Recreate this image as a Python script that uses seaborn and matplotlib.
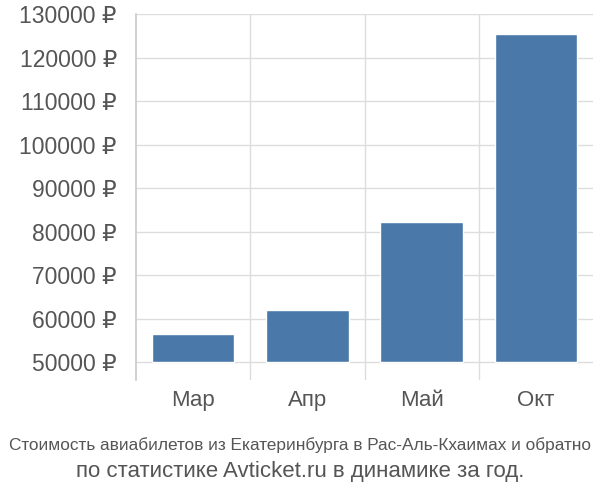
import matplotlib
matplotlib.use("Agg")
import matplotlib.pyplot as plt
import seaborn as sns
import pandas as pd

months = ["Мар", "Апр", "Май", "Окт"]
prices = [56400, 62000, 82200, 125400]
base = 50000

sns.set_theme(style="white")
plt.rcParams['font.family'] = ['Liberation Sans', 'DejaVu Sans']

df = pd.DataFrame({"month": months, "price": prices})
df["above"] = df["price"] - base

fig = plt.figure(figsize=(6, 5), dpi=100)
ax = fig.add_axes([0.227, 0.24, 0.761, 0.732])
sns.barplot(data=df, x="month", y="above", color="#4a78a8", saturation=1, width=0.72,
            bottom=base, ax=ax, zorder=3)

ax.set_ylim(45900, 130000)
ax.set_xlim(-0.5, 3.5)
ticks = list(range(50000, 130001, 10000))
ax.set_yticks(ticks)
ax.set_yticklabels([f"{v} ₽" for v in ticks], fontsize=16.5, color="#555555")
ax.set_xticks([0.5, 1.5, 2.5], minor=True)
ax.tick_params(axis="x", which="major", length=0, labelsize=16, labelcolor="#555555", pad=7)
ax.tick_params(axis="x", which="minor", length=15, color="#cccccc", direction="out")
ax.tick_params(axis="y", length=0, pad=14)
ax.grid(axis="y", color="#dddddd", zorder=0)
ax.grid(axis="x", which="minor", color="#dddddd", zorder=0)
ax.set_xlabel("")
ax.set_ylabel("")
for s in ["top", "right", "bottom"]:
    ax.spines[s].set_visible(False)
ax.spines["left"].set_color("#cccccc")

fig.text(0.5, 0.1, "Стоимость авиабилетов из Екатеринбурга в Рас-Аль-Кхаимах и обратно",
         ha="center", fontsize=12.4, color="#555555")
fig.text(0.5, 0.045, "по статистике Avticket.ru в динамике за год.",
         ha="center", fontsize=16, color="#555555")

fig.savefig("out.png", dpi=100)
